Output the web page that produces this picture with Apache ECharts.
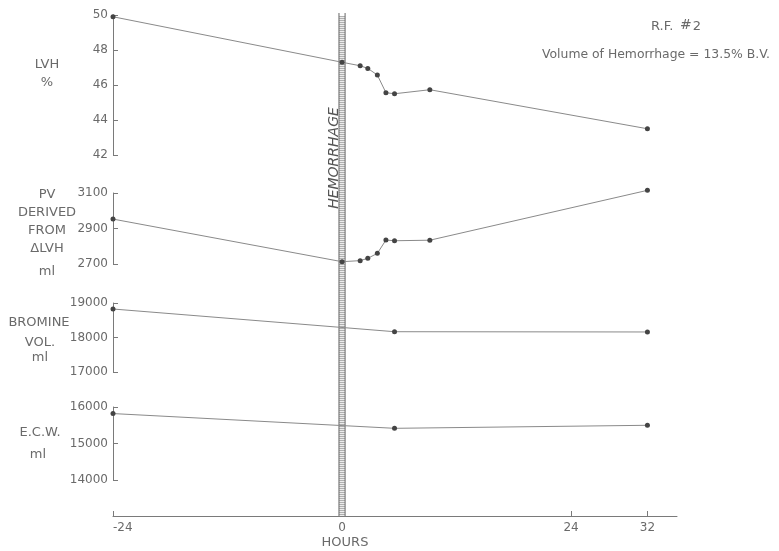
<!DOCTYPE html>
<html>
<head>
<meta charset="utf-8">
<script src="https://cdn.jsdelivr.net/npm/echarts@6/dist/echarts.min.js"></script>
<style>html,body{margin:0;padding:0;background:#fff;}#c{width:779px;height:551px;}</style>
</head>
<body>
<div id="c"></div>
<script>
// ---- data ----
var hoursLVH = [-24, 0, 1.9, 2.7, 3.7, 4.6, 5.5, 9.2, 32];
var lvh      = [49.9, 47.3, 47.1, 46.95, 46.57, 45.56, 45.5, 45.73, 43.5];
var pv       = [2953, 2713, 2719, 2732, 2760, 2835, 2831, 2834, 3115];
var hoursVol = [-24, 5.5, 32];
var bromine  = [18826, 18168, 18160];
var ecw      = [15820, 15416, 15499];
var hourTicks = [-24, 0, 24, 32];
var hemorrhageHour = 0;

function pairs(xs, ys){ return xs.map(function(x,i){ return [x, ys[i]]; }); }

var FONT = 'DejaVu Sans';
var TXT = '#6a6a6a';
var AX = '#7a7a7a';
var XMIN = -24, XMAX = 35.1;
var L = 113, W = 564;

var panels = [
  {top: 15,  height: 140, min: 42,    max: 50,    interval: 2},
  {top: 193, height: 71,  min: 2700,  max: 3100,  interval: 200},
  {top: 303, height: 69,  min: 17000, max: 19000, interval: 1000},
  {top: 407, height: 73,  min: 14000, max: 16000, interval: 1000}
];

var grids = panels.map(function(p){ return {left: L, width: W, top: p.top, height: p.height}; });
grids.push({left: L, width: W, top: 13, height: 503});

var xAxes = panels.map(function(p, i){
  return {type: 'value', gridIndex: i, min: XMIN, max: XMAX, show: false};
});
xAxes.push({
  type: 'value', gridIndex: 4, min: XMIN, max: XMAX,
  axisLine: {show: true, onZero: false, lineStyle: {color: AX, width: 1}},
  axisTick: {show: true, inside: true, length: 5, customValues: hourTicks, lineStyle: {color: AX}},
  axisLabel: {show: true, customValues: hourTicks, color: TXT, fontFamily: FONT, fontSize: 12, margin: 6, alignMinLabel: 'left'},
  splitLine: {show: false}
});

var yAxes = panels.map(function(p, i){
  return {
    type: 'value', gridIndex: i, min: p.min, max: p.max, interval: p.interval,
    axisLine: {show: true, onZero: false, lineStyle: {color: AX, width: 1}},
    axisTick: {show: true, inside: true, length: 5, lineStyle: {color: AX}},
    axisLabel: {color: TXT, fontFamily: FONT, fontSize: 12, margin: 5,
      formatter: function(v){ return String(v); }},
    splitLine: {show: false}
  };
});
yAxes.push({type: 'value', gridIndex: 4, min: 0, max: 1, show: false});

// hatch pattern for the hemorrhage bar
var pc = document.createElement('canvas');
pc.width = 4; pc.height = 2;
var ctx = pc.getContext('2d');
ctx.fillStyle = '#ececec'; ctx.fillRect(0,0,4,2);
ctx.fillStyle = '#b0b0b0'; ctx.fillRect(0,0,4,1);

var lineStyle = {color: '#8a8a8a', width: 1};
var itemStyle = {color: '#444'};

function lineSeries(i, data){
  return {
    type: 'line', xAxisIndex: i, yAxisIndex: i, data: data, clip: false,
    symbol: 'circle', symbolSize: 5, showSymbol: true,
    lineStyle: lineStyle, itemStyle: itemStyle, silent: true, animation: false, z: 5
  };
}

var series = [
  {
    type: 'custom', xAxisIndex: 4, yAxisIndex: 4, data: [[hemorrhageHour]], z: 3, animation: false, silent: true,
    renderItem: function(params, api){
      var h = api.value(0);
      var a = api.coord([h - 0.32, 1]);
      var b = api.coord([h + 0.32, 0]);
      return {type: 'group', children: [
        {type: 'rect', shape: {x: a[0], y: a[1] + 3, width: b[0] - a[0], height: b[1] - a[1] - 3},
         style: {fill: {image: pc, repeat: 'repeat'}}},
        {type: 'line', shape: {x1: a[0], y1: a[1], x2: a[0], y2: b[1]}, style: {stroke: '#666', lineWidth: 1}},
        {type: 'line', shape: {x1: b[0], y1: a[1], x2: b[0], y2: b[1]}, style: {stroke: '#666', lineWidth: 1}}
      ]};
    }
  },
  lineSeries(0, pairs(hoursLVH, lvh)),
  lineSeries(1, pairs(hoursLVH, pv)),
  lineSeries(2, pairs(hoursVol, bromine)),
  lineSeries(3, pairs(hoursVol, ecw))
];

function t(x, y, s, size){
  return {type: 'text', x: x, y: y, style: {text: s, fill: TXT, font: (size || 13) + 'px "' + FONT + '"', align: 'center', verticalAlign: 'middle'}};
}

var graphics = [
  t(47, 65, 'LVH'), t(47, 83, '%'),
  t(47, 195, 'PV'), t(47, 213, 'DERIVED'), t(47, 231, 'FROM'), t(47, 249, '\u0394LVH'), t(47, 272, 'ml'),
  t(39, 323, 'BROMINE'), t(40, 343, 'VOL.'), t(40, 358, 'ml'),
  t(40, 433, 'E.C.W.'), t(38, 455, 'ml'),
  t(345, 543, 'HOURS', 13),
  {type: 'text', x: 334, y: 158, rotation: Math.PI / 2,
   style: {text: 'HEMORRHAGE', fill: '#555', font: 'italic 14px "' + FONT + '"', align: 'center', verticalAlign: 'middle'}},
  {type: 'text', x: 676, y: 27,
   style: {text: '{a|R.F.}  {b|#}{a|2}', align: 'center', verticalAlign: 'middle',
     rich: {a: {fill: TXT, font: '13px "' + FONT + '"'}, b: {fill: TXT, font: '14px "' + FONT + '"', padding: [0,1,4,0]}}}},
  {type: 'text', x: 542, y: 55,
   style: {text: 'Volume of Hemorrhage = 13.5% B.V.', fill: TXT, font: '12.4px "' + FONT + '"', align: 'left', verticalAlign: 'middle'}}
];

var chart = echarts.init(document.getElementById('c'), null, {renderer: 'canvas'});
chart.setOption({
  backgroundColor: '#fff',
  animation: false,
  grid: grids,
  xAxis: xAxes,
  yAxis: yAxes,
  series: series,
  graphic: graphics
});
</script>
</body>
</html>
